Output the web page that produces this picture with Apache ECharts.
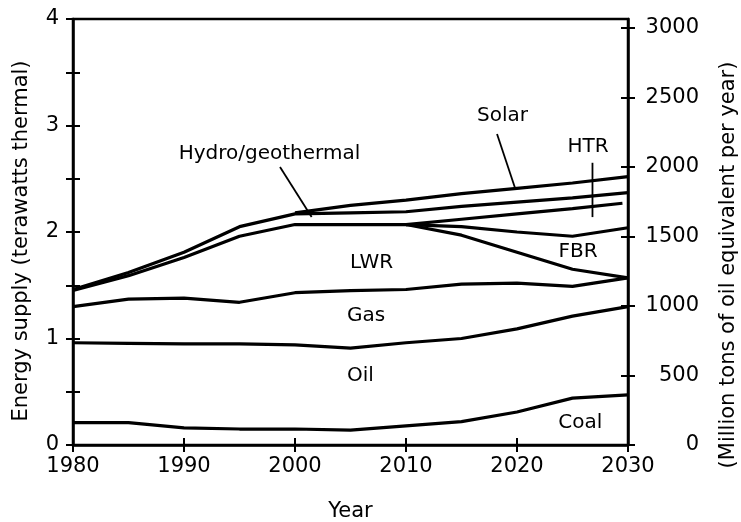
<!DOCTYPE html>
<html>
<head>
<meta charset="utf-8">
<script src="https://cdn.jsdelivr.net/npm/echarts@6/dist/echarts.min.js"></script>
<style>
html,body{margin:0;padding:0;background:#fff;}
#chart{width:741px;height:522px;}
</style>
</head>
<body>
<div id="chart"></div>
<script>
// ---- data (cumulative energy supply, terawatts thermal) ----
const years = [1980, 1985, 1990, 1995, 2000, 2005, 2010, 2015, 2020, 2025, 2030];
const coal  = [0.21, 0.21, 0.16, 0.15, 0.15, 0.14, 0.18, 0.22, 0.31, 0.44, 0.47];
const oil   = [0.96, 0.955, 0.95, 0.95, 0.94, 0.91, 0.96, 1.00, 1.09, 1.21, 1.30];
const gas   = [1.30, 1.37, 1.38, 1.34, 1.43, 1.45, 1.46, 1.51, 1.52, 1.49, 1.57];
const lwr   = [1.45, 1.59, 1.76, 1.96, 2.07, 2.07, 2.07, 1.97, 1.81, 1.65, 1.57];
const hydro = [1.46, 1.62, 1.81, 2.05, 2.17, 2.18, 2.19, 2.24, 2.28, 2.32, 2.37];
const fbrYears = [2010, 2015, 2020, 2025, 2030];
const fbr      = [2.07, 2.05, 2.00, 1.96, 2.04];
const htrYears = [2010, 2015, 2020, 2025, 2029.5];
const htr      = [2.07, 2.12, 2.17, 2.22, 2.27];
const solarYears = [2000, 2005, 2010, 2015, 2020, 2025, 2030];
const solar      = [2.18, 2.25, 2.30, 2.36, 2.41, 2.46, 2.52];

// annotation labels (data coordinates)
const labelNames = ['Solar', 'HTR', 'Hydro/geothermal', 'FBR', 'LWR', 'Gas', 'Oil', 'Coal'];
const labelX     = [2018.7, 2026.4, 1997.7, 2025.5, 2006.9, 2006.4, 2005.9, 2025.7];
const labelY     = [3.09, 2.80, 2.73, 1.81, 1.71, 1.215, 0.65, 0.21];
// leader lines (data coordinates)
const leaderSolar = [[2018.2, 2.92], [2019.8, 2.42]];
const leaderHydro = [[1998.65, 2.61], [2001.5, 2.14]];
const leaderHTR   = [[2026.8, 2.65], [2026.8, 2.14]];

// axis ticks
const xTicks = {min: 1980, max: 2030, step: 10};
const leftTicks = {min: 0, max: 4, step: 0.5};
const rightTicks = {min: 0, max: 3065, step: 500};

const FONT = 'DejaVu Sans';
const pairs = (xs, ys) => xs.map((x, i) => [x, ys[i]]);
const lineSeries = (name, data, w) => ({
  name, type: 'line', data, symbol: 'none', smooth: false,
  xAxisIndex: 0, yAxisIndex: 0,
  lineStyle: {color: '#000', width: w || 3.2}, z: 3, silent: true
});

const chart = echarts.init(document.getElementById('chart'), null, {renderer: 'canvas'});
const option = {
  backgroundColor: '#fff',
  animation: false,
  grid: {left: 73, right: 113, top: 19, bottom: 77, show: true, containLabel: false,
         outerBoundsMode: 'none',
         borderColor: '#000', borderWidth: 2.5, backgroundColor: 'transparent'},
  xAxis: [
    {type: 'value', min: xTicks.min, max: xTicks.max, interval: xTicks.step, position: 'bottom',
     axisLine: {lineStyle: {color: '#000', width: 2.5}},
     axisTick: {length: 7, lineStyle: {color: '#000', width: 2}},
     axisLabel: {color: '#000', fontFamily: FONT, fontSize: 21, margin: 11, formatter: v => String(v)},
     splitLine: {show: false},
     name: 'Year', nameLocation: 'middle', nameGap: 56,
     nameTextStyle: {color: '#000', fontFamily: FONT, fontSize: 21}},
    {type: 'value', min: xTicks.min, max: xTicks.max, interval: xTicks.step, position: 'bottom',
     axisLine: {show: false},
     axisTick: {inside: true, length: 7, lineStyle: {color: '#000', width: 2}},
     axisLabel: {show: false}, splitLine: {show: false}}
  ],
  yAxis: [
    {type: 'value', min: leftTicks.min, max: leftTicks.max, interval: leftTicks.step, position: 'left',
     axisLine: {show: true, lineStyle: {color: '#000', width: 2.5}},
     axisTick: {show: true, length: 7, lineStyle: {color: '#000', width: 2}},
     axisLabel: {color: '#000', fontFamily: FONT, fontSize: 21, margin: 14,
                 formatter: v => (Math.abs(v - Math.round(v)) < 1e-6 ? String(Math.round(v)) : '')},
     splitLine: {show: false}},
    {type: 'value', min: rightTicks.min, max: rightTicks.max, interval: rightTicks.step, position: 'right',
     axisLine: {show: true, lineStyle: {color: '#000', width: 2.5}},
     axisTick: {show: true, length: 7, lineStyle: {color: '#000', width: 2}},
     axisLabel: {color: '#000', fontFamily: FONT, fontSize: 21, margin: 71, align: 'right',
                 showMaxLabel: false,
                 formatter: v => (v % 500 === 0 ? String(v) : '')},
     splitLine: {show: false}},
    {type: 'value', min: leftTicks.min, max: leftTicks.max, interval: leftTicks.step, position: 'left',
     axisLine: {show: false},
     axisTick: {show: true, inside: true, length: 7, lineStyle: {color: '#000', width: 2}},
     axisLabel: {show: false}, splitLine: {show: false}},
    {type: 'value', min: rightTicks.min, max: rightTicks.max, interval: rightTicks.step, position: 'right',
     axisLine: {show: false},
     axisTick: {show: true, inside: true, length: 7, lineStyle: {color: '#000', width: 2}},
     axisLabel: {show: false}, splitLine: {show: false}}
  ],
  graphic: [
    {type: 'text', x: 22, y: 241, rotation: Math.PI / 2,
     style: {text: 'Energy supply (terawatts thermal)', fill: '#000', font: '21px "DejaVu Sans"',
             textAlign: 'center', textVerticalAlign: 'middle'}},
    {type: 'text', x: 729, y: 265, rotation: Math.PI / 2,
     style: {text: '(Million tons of oil equivalent per year)', fill: '#000', font: '21px "DejaVu Sans"',
             textAlign: 'center', textVerticalAlign: 'middle'}}
  ],
  series: [
    lineSeries('Coal', pairs(years, coal)),
    lineSeries('Oil', pairs(years, oil)),
    lineSeries('Gas', pairs(years, gas)),
    lineSeries('LWR', pairs(years, lwr)),
    lineSeries('FBR', pairs(fbrYears, fbr)),
    lineSeries('HTR', pairs(htrYears, htr)),
    lineSeries('Hydro/geothermal', pairs(years, hydro)),
    lineSeries('Solar', pairs(solarYears, solar)),
    lineSeries('leaderSolar', leaderSolar, 1.8),
    lineSeries('leaderHydro', leaderHydro, 1.8),
    lineSeries('leaderHTR', leaderHTR, 1.8),
    {type: 'scatter', xAxisIndex: 0, yAxisIndex: 0, symbolSize: 0, silent: true,
     itemStyle: {opacity: 1, color: '#000'},
     data: labelNames.map((n, i) => ({value: [labelX[i], labelY[i]], name: n})),
     label: {show: true, position: 'inside', formatter: p => p.name, color: '#000', opacity: 1,
             fontFamily: FONT, fontSize: 20}}
  ]
};
chart.setOption(option);
</script>
</body>
</html>
